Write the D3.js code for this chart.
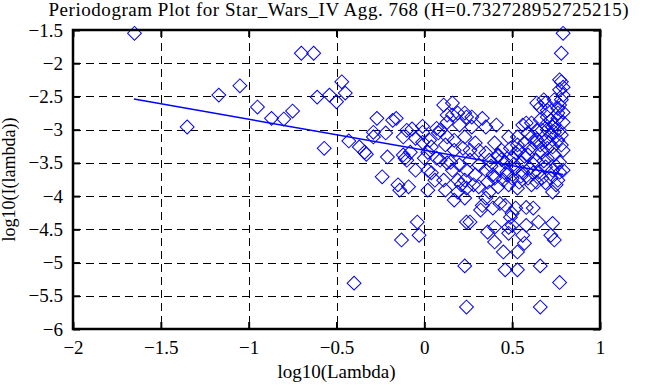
<!DOCTYPE html>
<html>
<head>
<meta charset="utf-8">
<script src="https://cdn.jsdelivr.net/npm/d3@7"></script>
<style>
  body { margin: 0; background: #fff; }
  svg { display: block; }
  text { font-family: "Liberation Serif", "Times New Roman", serif; fill: #000; }
</style>
</head>
<body>
<svg width="665" height="385"></svg>
<script>
// periodogram points: log10(lambda), log10(I(lambda))
var logLambda = [
  -1.65, -1.35, -1.17, -1.05, -0.95, -0.87, -0.80, -0.75, -0.70, -0.63,
  -0.61, -0.54, -0.47, -0.45, -0.50, -0.57, -0.43, -0.37, -0.33, -0.27,
  -0.18, -0.16, -0.29, -0.22, -0.29, -0.34, -0.21, -0.12, -0.08, -0.10,
  -0.24, -0.15, -0.09, -0.11, -0.40, -0.12, -0.10,
  -0.07, -0.01, -0.05, -0.01, -0.01, 0.02, 0.03, 0.04, 0.07, 0.08,
  0.09, 0.11, 0.16, 0.13, 0.13, 0.13, 0.16, 0.19, 0.20, 0.24,
  0.27, 0.33, 0.41, 0.17, 0.22, 0.07, 0.13, 0.00, -0.05, 0.02,
  0.04, 0.02, 0.11, 0.19, 0.21, 0.24, -0.14, 0.19, -0.04, -0.03,
  -0.13, 0.23, 0.24, 0.24, 0.09, 0.15,
  0.79, 0.78, 0.78, 0.77, 0.79, 0.78, 0.79, 0.69, 0.66, 0.64,
  0.68, 0.23, 0.35, 0.27, 0.48, 0.53, 0.61, 0.70, 0.76, 0.79,
  0.79, 0.77, 0.73, 0.67, 0.61, 0.57, 0.63, 0.69, 0.73, 0.76,
  0.29, 0.40, 0.44, 0.35, 0.79, 0.77, 0.76, 0.70, 0.58, 0.56,
  0.23, 0.31, 0.37, 0.42, 0.48, 0.53, 0.61, 0.69, 0.73, 0.76,
  0.67, 0.33, 0.39, 0.46, 0.50, 0.49, 0.52, 0.58, 0.62, 0.26,
  0.40, 0.36, 0.48, 0.50, 0.58, 0.65, 0.73, 0.48, 0.56, 0.72,
  0.74, 0.40, 0.57, 0.45, 0.53, 0.46, 0.53, 0.66, 0.77, 0.66,
  0.35, 0.43, 0.32,
  0.37, 0.42, 0.46, 0.50, 0.54, 0.59, 0.63, 0.67, 0.70, 0.74,
  0.77, 0.79, 0.73, 0.69, 0.65, 0.60, 0.56, 0.52, 0.47, 0.43,
  0.39, 0.35, 0.31, 0.26, 0.29, 0.36, 0.40, 0.45, 0.50, 0.54,
  0.59, 0.64, 0.72, 0.75, 0.77, 0.70, 0.66, 0.60, 0.53, 0.49,
  0.72, 0.74, 0.76, 0.69, 0.64, 0.72, 0.78, 0.74, 0.78, 0.77,
  0.74,
  0.12, 0.17, 0.23, 0.26, 0.31, 0.16, 0.20, 0.24, 0.28, 0.06,
  0.12, 0.17, 0.23,
  0.55, 0.62, 0.68, 0.75, 0.71, 0.64, 0.57, 0.51, 0.44, 0.38,
  0.47, 0.55, 0.62, 0.70, 0.66, 0.59, 0.52, 0.42
];
var logPeriodogram = [
  -1.55, -2.96, -2.48, -2.34, -2.66, -2.83, -2.84, -2.72, -1.85, -1.85,
  -2.51, -2.48, -2.28, -2.45, -2.58, -3.28, -3.17, -3.26, -3.37, -2.83,
  -2.86, -2.83, -3.04, -3.05, -3.11, -3.34, -3.41, -3.38, -3.34, -3.46,
  -3.71, -3.83, -3.86, -3.43, -5.31, -3.11, -3.01,
  -2.99, -2.95, -3.13, -3.04, -3.19, -3.34, -3.16, -3.26, -2.98, -3.05,
  -3.01, -2.63, -2.60, -2.78, -3.11, -2.89, -2.78, -2.75, -2.93, -2.81,
  -2.81, -2.83, -2.93, -3.31, -3.28, -3.43, -3.50, -3.43, -3.61, -3.61,
  -3.65, -3.91, -3.76, -3.76, -3.83, -3.88, -3.91, -3.94, -4.39, -4.59,
  -4.66, -5.05, -4.39, -5.67, -3.46, -3.49,
  -1.55, -1.85, -2.28, -2.40, -2.48, -2.55, -2.36, -2.60, -2.66, -2.60,
  -2.55, -2.75, -2.96, -2.96, -3.11, -3.11, -2.90, -2.81, -2.75, -2.74,
  -2.89, -3.01, -2.96, -3.01, -3.11, -3.20, -3.20, -3.16, -3.26, -3.16,
  -3.20, -3.20, -3.31, -3.35, -3.31, -2.25, -2.68, -2.71, -2.90, -2.93,
  -3.76, -3.86, -3.94, -3.86, -3.83, -3.88, -3.83, -3.80, -3.94, -3.76,
  -3.73, -4.14, -4.18, -4.14, -4.26, -4.32, -4.18, -4.17, -4.18, -4.39,
  -4.47, -4.54, -4.47, -4.44, -4.44, -4.39, -4.41, -4.56, -4.59, -4.59,
  -4.66, -4.69, -4.71, -4.84, -4.84, -5.11, -5.11, -5.05, -5.30, -5.67,
  -4.03, -4.11, -4.21,
  -3.46, -3.38, -3.49, -3.43, -3.31, -3.38, -3.46, -3.34, -3.43, -3.38,
  -3.49, -3.61, -3.61, -3.56, -3.64, -3.58, -3.64, -3.58, -3.64, -3.58,
  -3.68, -3.61, -3.53, -3.46, -3.68, -3.79, -3.73, -3.76, -3.73, -3.79,
  -3.73, -3.79, -3.73, -3.83, -3.64, -3.28, -3.23, -3.28, -3.23, -3.28,
  -2.86, -2.93, -2.83, -2.93, -3.01, -3.08, -3.08, -3.04, -3.23, -2.63,
  -2.55,
  -3.23, -3.16, -3.11, -3.31, -3.31, -3.61, -3.53, -3.61, -3.83, -3.76,
  -3.91, -4.06, -4.03,
  -3.50, -3.52, -3.47, -3.55, -3.20, -3.15, -3.40, -3.52, -3.45, -3.55,
  -3.68, -3.70, -3.65, -3.00, -2.85, -3.05, -3.35, -3.40
];

// least-squares fit drawn as a straight line
var fitX = [-1.653, 0.789];
var fitY = [-2.539, -3.676];

var xTicks = [-2, -1.5, -1, -0.5, 0, 0.5, 1];
var yTicks = [-6, -5.5, -5, -4.5, -4, -3.5, -3, -2.5, -2, -1.5];

var titleText = 'Periodogram Plot for Star_Wars_IV Agg. 768 (H=0.732728952725215)';

var svg = d3.select('svg');
var box = {l: 73, r: 600, t: 30, b: 329};

var x = d3.scaleLinear().domain([-2, 1]).range([box.l, box.r]);
var y = d3.scaleLinear().domain([-6, -1.5]).range([box.b, box.t]);

function fmt(v) {
    return (v < 0 ? '\u2212' : '') + Math.abs(v);
}

// grid
var grid = svg.append('g')
    .attr('stroke', '#000')
    .attr('stroke-width', 1)
    .attr('stroke-dasharray', '8,5');
grid.selectAll('line.gx')
    .data(xTicks.slice(1, -1))
    .enter().append('line')
    .attr('x1', function(d) { return Math.round(x(d)) + 0.5; })
    .attr('x2', function(d) { return Math.round(x(d)) + 0.5; })
    .attr('y1', box.t).attr('y2', box.b);
grid.selectAll('line.gy')
    .data(yTicks.slice(1, -1))
    .enter().append('line')
    .attr('y1', function(d) { return Math.round(y(d)) + 0.5; })
    .attr('y2', function(d) { return Math.round(y(d)) + 0.5; })
    .attr('x1', box.l).attr('x2', box.r);

// points
var pts = logLambda.map(function(d, i) { return [d, logPeriodogram[i]]; });
var sym = d3.symbol().type(d3.symbolSquare).size(96);
svg.append('g').selectAll('path')
    .data(pts)
    .enter().append('path')
    .attr('d', sym)
    .attr('transform', function(d) {
        return 'translate(' + [x(d[0]), y(d[1])] + ') rotate(45)';
    })
    .attr('fill', 'none')
    .attr('stroke', '#0000ff')
    .attr('stroke-width', 1);

// fit line
var line = d3.line()
    .x(function(d) { return x(d[0]); })
    .y(function(d) { return y(d[1]); });
svg.append('path')
    .datum(fitX.map(function(d, i) { return [d, fitY[i]]; }))
    .attr('d', line)
    .attr('fill', 'none')
    .attr('stroke', '#0000ff')
    .attr('stroke-width', 1.5);

// axes, ticks pointing inward
var xAx = svg.append('g')
    .attr('transform', 'translate(0,' + box.b + ')')
    .call(d3.axisBottom(x).tickValues(xTicks).tickSize(-7).tickPadding(12).tickFormat(fmt));
var xTop = svg.append('g')
    .attr('transform', 'translate(0,' + box.t + ')')
    .call(d3.axisTop(x).tickValues(xTicks).tickSize(-7).tickFormat(''));
var yAx = svg.append('g')
    .attr('transform', 'translate(' + box.l + ',0)')
    .call(d3.axisLeft(y).tickValues(yTicks).tickSize(-7).tickPadding(10).tickFormat(fmt));
var yRight = svg.append('g')
    .attr('transform', 'translate(' + box.r + ',0)')
    .call(d3.axisRight(y).tickValues(yTicks).tickSize(-7).tickFormat(''));

[xAx, xTop, yAx, yRight].forEach(function(a) {
    a.select('.domain').remove();
    a.selectAll('.tick line').attr('stroke', '#000').attr('stroke-width', 2);
    a.selectAll('text')
        .style('font-family', '"Liberation Serif", serif')
        .style('font-size', '19px')
        .attr('fill', '#000');
});

svg.append('rect')
    .attr('x', box.l).attr('y', box.t)
    .attr('width', box.r - box.l).attr('height', box.b - box.t)
    .attr('fill', 'none')
    .attr('stroke', '#000')
    .attr('stroke-width', 2.5);

// labels
svg.append('text')
    .attr('x', (box.l + box.r) / 2 + 2)
    .attr('y', 16)
    .attr('text-anchor', 'middle')
    .attr('textLength', 580)
    .attr('lengthAdjust', 'spacing')
    .style('font-size', '19px')
    .text(titleText);

svg.append('text')
    .attr('x', (box.l + box.r) / 2)
    .attr('y', 378)
    .attr('text-anchor', 'middle')
    .style('font-size', '19px')
    .text('log10(Lambda)');

svg.append('text')
    .attr('transform', 'translate(15,' + ((box.t + box.b) / 2) + ') rotate(-90)')
    .attr('text-anchor', 'middle')
    .style('font-size', '18px')
    .text('log10(I(lambda))');
</script>
</body>
</html>
